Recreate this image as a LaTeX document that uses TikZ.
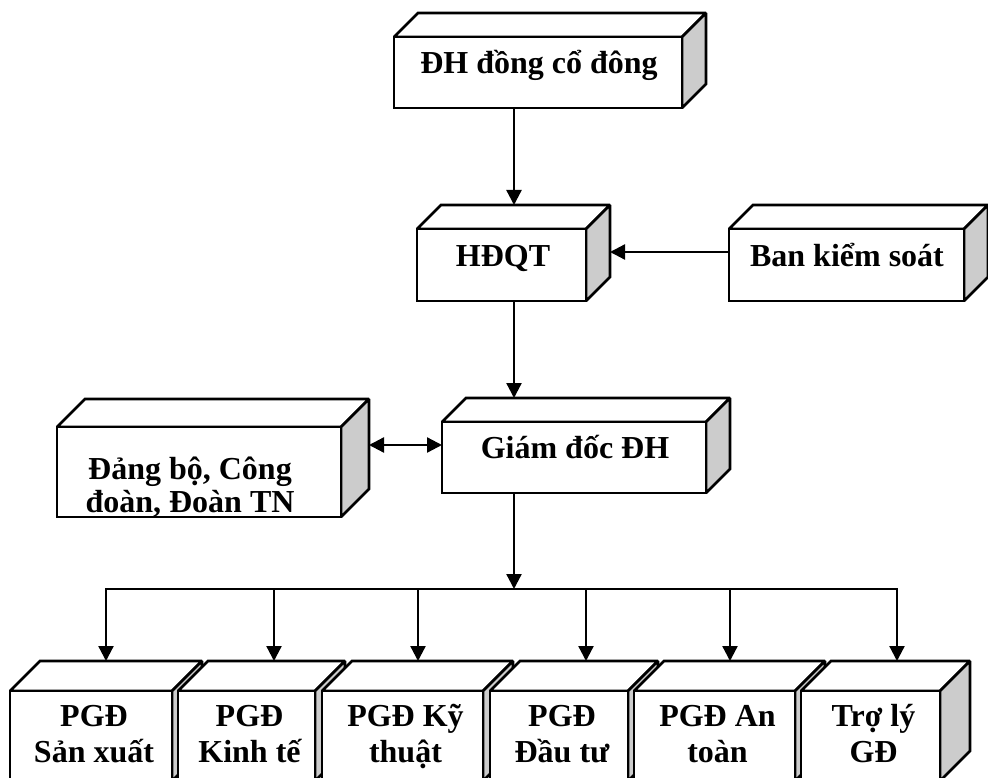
\documentclass[tikz,border=0pt]{standalone}
\usepackage{fontspec}
\setmainfont{Liberation Serif}
\usetikzlibrary{arrows.meta}
\definecolor{sidegray}{RGB}{204,204,204}
\tikzset{
  facestyle/.style={draw=black, line width=2.6pt, line join=miter, miter limit=1.5},
  frontface/.style={facestyle, fill=white, rectangle, inner sep=0pt, outer sep=0pt},
  lbl/.style={font=\fontsize{32}{34}\selectfont\bfseries, inner sep=0pt, anchor=base},
  arr/.style={line width=2.3pt, -{Triangle[length=15pt,width=15pt]}},
  arrtwo/.style={line width=2.3pt, {Triangle[length=15pt,width=15pt]}-{Triangle[length=15pt,width=15pt]}},
  busline/.style={line width=2.3pt, line cap=rect},
}
% name, x1, y1, x2, y2, depth
\newcommand{\cuboidbox}[6]{%
  \filldraw[facestyle, fill=white] (#2,#3) -- ({#2+#6},{#3-#6}) -- ({#4+#6},{#3-#6}) -- (#4,#3) -- cycle;
  \filldraw[facestyle, fill=sidegray] (#4,#3) -- ({#4+#6},{#3-#6}) -- ({#4+#6},{#5-#6}) -- (#4,#5) -- cycle;
  \node[frontface, anchor=north west, minimum width={(#4-#2)*1pt}, minimum height={(#5-#3)*1pt}] (#1) at (#2,#3) {};
  \coordinate (#1-top) at ({#2+#6},{#3-#6});
  \coordinate (#1-br) at ({#4+#6},{#3-#6});
}
\begin{document}
\begin{tikzpicture}[x=1pt,y=-1pt]
\clip (0,0) rectangle (988,778);
\fill[white] (0,0) rectangle (988,778);

% top boxes
\cuboidbox{dh}{394}{37}{682}{108}{24}
\node[lbl] (dht) at (539,74) {ĐH đồng cổ đông};

\cuboidbox{hdq}{417}{229}{586}{301}{24}
\node[lbl] (hdqt) at (503,266) {HĐQT};

\cuboidbox{bks}{729}{229}{964}{301}{24}
\node[lbl] (bkst) at (847,266) {Ban kiểm soát};

\cuboidbox{gd}{442}{422}{706}{493}{24}
\node[lbl] (gdt) at (575,458) {Giám đốc ĐH};

\cuboidbox{db}{57}{427}{341}{517}{28}
\node[lbl] (dbt1) at (190,479) {Đảng bộ, Công};
\node[lbl] (dbt2) at (190,512) {đoàn, Đoàn TN};

% bottom row
\cuboidbox{b1}{10}{691}{172}{781}{30}
\cuboidbox{b2}{178}{691}{315}{781}{30}
\cuboidbox{b3}{322}{691}{483}{781}{30}
\cuboidbox{b4}{490}{691}{628}{781}{30}
\cuboidbox{b5}{634}{691}{795}{781}{30}
\cuboidbox{b6}{801}{691}{940}{781}{30}

\node[lbl] (b1a) at (94,726) {PGĐ};
\node[lbl] (b1b) at (94,762) {Sản xuất};
\node[lbl] (b2a) at (249.5,726) {PGĐ};
\node[lbl] (b2b) at (249.5,762) {Kinh tế};
\node[lbl] (b3a) at (405.5,726) {PGĐ Kỹ};
\node[lbl] (b3b) at (405.5,762) {thuật};
\node[lbl] (b4a) at (562,726) {PGĐ};
\node[lbl] (b4b) at (562,762) {Đầu tư};
\node[lbl] (b5a) at (717.5,726) {PGĐ An};
\node[lbl] (b5b) at (717.5,762) {toàn};
\node[lbl] (b6a) at (873.5,726) {Trợ lý};
\node[lbl] (b6b) at (873.5,762) {GĐ};

% helper coordinates
\coordinate (spine) at (514,0);
\coordinate (hrow) at (0,252);
\coordinate (grow) at (0,445);
\coordinate (bus) at (514,589);
\coordinate (t1) at (106,661);
\coordinate (t2) at (274,661);
\coordinate (t3) at (418,661);
\coordinate (t4) at (586,661);
\coordinate (t5) at (730,661);
\coordinate (t6) at (897,661);

% connectors
\draw[arr] (dh.south -| spine) -- (hdq-top -| spine);
\draw[arr] (hdq.south -| spine) -- (gd-top -| spine);
\draw[arr] (bks.west |- hrow) -- (hdq-br |- hrow);
\draw[arrtwo] (db-br |- grow) -- (gd.west |- grow);
\draw[arr] (gd.south -| spine) -- (bus);
\draw[busline] (t1 |- bus) -- (t6 |- bus);
\foreach \t in {t1,t2,t3,t4,t5,t6}
  \draw[arr] (\t |- bus) -- (\t);
\end{tikzpicture}
\end{document}
